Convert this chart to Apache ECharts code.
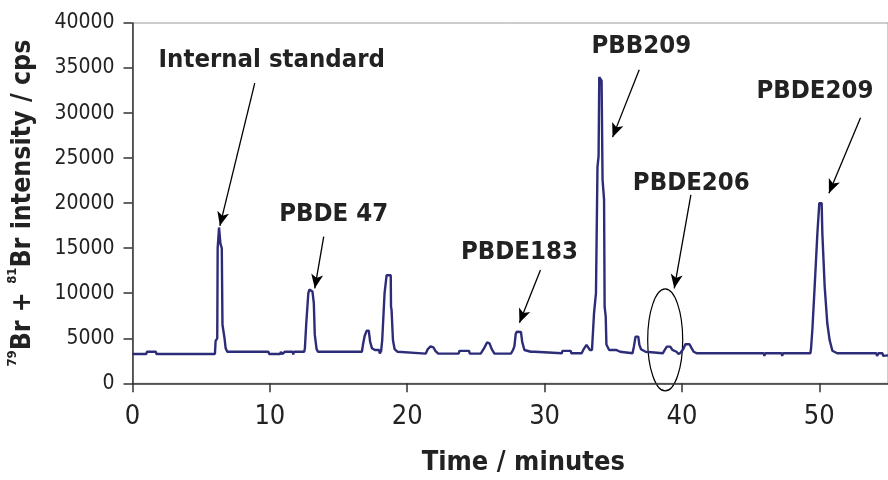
<!DOCTYPE html>
<html>
<head>
<meta charset="utf-8">
<script src="https://cdn.jsdelivr.net/npm/echarts@6/dist/echarts.min.js"></script>
<style>html,body{margin:0;padding:0;background:#fff;}#c{width:888px;height:480px;}</style>
</head>
<body>
<div id="c"></div>
<script>
// Retention time (minutes) and 79Br+81Br intensity (cps)
const times = [0,1.0,1.05,1.7,1.75,6.0,6.05,6.17,6.2,6.3,6.4,6.5,6.55,6.7,6.78,6.9,9.9,9.95,10.75,10.8,10.9,11.1,11.65,11.7,11.75,12.5,
12.55,12.65,12.8,12.88,13.1,13.2,13.27,13.4,13.5,16.7,16.78,16.9,17.05,17.2,17.3,17.43,17.65,17.95,18.0,18.1,18.18,18.35,18.5,18.8,18.82,18.86,18.96,19.08,19.3,19.35,
21.35,21.5,21.7,21.9,22.05,22.25,23.75,23.8,24.5,24.55,25.35,25.6,25.82,26.0,26.15,26.35,27.55,27.7,27.8,27.9,27.97,28.28,28.37,28.53,29.0,29.3,29.38,
31.25,31.3,31.9,31.95,32.7,32.85,33.05,33.15,33.3,33.45,33.6,33.74,33.85,33.93,33.98,34.15,34.22,34.33,34.37,34.45,34.5,34.7,35.2,35.5,35.6,36.4,36.5,36.62,36.82,36.9,37.02,37.35,37.4,
38.6,38.75,38.9,39.15,39.3,39.6,39.75,39.9,40.1,40.25,40.55,40.7,40.85,41.1,45.95,46.0,46.05,47.25,47.3,47.35,49.35,49.4,49.5,49.66,49.86,50.0,50.17,50.22,50.39,50.58,50.75,50.95,51.3,54.15,54.2,54.3,54.6,54.65,55];
const intensity = [3250,3250,3500,3500,3250,3250,4700,5000,15000,17300,15500,15000,6500,5000,3900,3500,3500,3250,3250,3500,3250,3500,3500,3200,3500,3500,
3900,6670,10000,10400,10200,8900,5400,3800,3500,3500,4300,5250,5850,5850,4600,3900,3700,3700,3300,3600,4800,10000,12000,12000,8500,8150,4800,3800,3500,3300,
3300,3800,4100,4000,3600,3300,3300,3600,3600,3300,3300,3900,4550,4400,3800,3300,3300,3700,4100,5500,5730,5700,4600,3700,3500,3500,3330,
3330,3600,3600,3330,3330,3800,4260,4100,3700,3700,7800,10000,24000,25200,34000,33600,22600,20400,8500,7400,4300,3700,3700,3500,3330,3330,4070,5180,5180,4260,3780,3500,3330,
3330,3700,4070,4070,3700,3500,3250,3400,3800,4330,4330,3900,3500,3330,3330,3050,3330,3330,3050,3330,3330,3890,6110,10730,16670,20000,20000,16670,10730,6670,4800,3620,3330,3330,3050,3330,3330,3050,3100];

const xTicks = [0,10,20,30,40,50];
const yTicks = [0,5000,10000,15000,20000,25000,30000,35000,40000];

// Annotations (data coordinates): label, label centre, arrow start, arrow tip
const annLabels = ['Internal standard','PBDE 47','PBDE183','PBB209','PBDE206','PBDE209'];
const annTextPos = [[10.14,35900],[14.65,18790],[28.17,14590],[37.04,37360],[40.68,22250],[49.68,32360]];
const annFrom = [[8.9,33330],[13.92,16290],[29.7,12590],[36.89,34810],[40.65,20920],[53.0,29470]];
const annTo = [[6.36,17480],[13.27,10550],[28.17,6730],[34.95,27330],[39.44,10550],[50.7,21110]];
const ellipseCentre = [38.78,4810];

const fam = '"Liberation Sans Narrow","DejaVu Sans Condensed",sans-serif';
const data = times.map((t,i)=>[t,intensity[i]]);

const chart = echarts.init(document.getElementById('c'));
chart.setOption({
  animation:false,
  grid:{left:132.5,right:0,top:23,bottom:96.7,show:true,borderColor:'#9a9a9a',borderWidth:1,outerBoundsMode:'none',containLabel:false},
  xAxis:{type:'value',min:0,max:55,interval:10,
    axisLine:{show:true,lineStyle:{color:'#333',width:1.5}},
    axisTick:{show:true,length:9,lineStyle:{color:'#333',width:1.5},customValues:xTicks},
    axisLabel:{customValues:xTicks,fontSize:27,color:'#222',margin:20,fontFamily:fam},
    splitLine:{show:false},
    name:'Time / minutes',nameLocation:'middle',nameGap:66,
    nameTextStyle:{fontSize:27,fontWeight:'bold',color:'#222',fontFamily:fam,padding:[0,0,0,26]}
  },
  yAxis:{type:'value',min:0,max:40000,interval:5000,
    axisLine:{show:true,lineStyle:{color:'#333',width:1.5}},
    axisTick:{show:true,length:9,lineStyle:{color:'#333',width:1.5},customValues:yTicks},
    axisLabel:{customValues:yTicks,fontSize:21,color:'#222',margin:18,fontFamily:fam,formatter:v=>String(v)},
    splitLine:{show:false},
    name:'{s|79}{b|Br + }{s|81}{b|Br intensity / cps}',nameLocation:'middle',nameGap:92,nameRotate:90,
    nameTextStyle:{rich:{
      s:{fontSize:13,fontWeight:'bold',color:'#222',fontFamily:fam,verticalAlign:'top',lineHeight:34},
      b:{fontSize:26.5,fontWeight:'bold',color:'#222',fontFamily:fam,lineHeight:34}
    }}
  },
  series:[{type:'line',data:data,showSymbol:false,symbol:'none',
    lineStyle:{color:'#2d2c78',width:2.4},
    markLine:{silent:true,symbol:['none','arrow'],symbolSize:[9,14],
      lineStyle:{color:'#000',width:1.3,type:'solid'},label:{show:false},
      data:annFrom.map((f,i)=>[{coord:f},{coord:annTo[i]}])
    }
  }]
});

const g = [];
annLabels.forEach((txt,i)=>{
  const p = chart.convertToPixel({gridIndex:0},annTextPos[i]);
  g.push({type:'text',x:p[0],y:p[1],style:{text:txt,fill:'#222',font:'bold 25.5px '+fam,textAlign:'center',textVerticalAlign:'middle'}});
});
const c = chart.convertToPixel({gridIndex:0},ellipseCentre);
g.push({type:'ellipse',shape:{cx:c[0],cy:c[1],rx:17.5,ry:51},style:{fill:'none',stroke:'#000',lineWidth:1.2}});
chart.setOption({graphic:g});
</script>
</body>
</html>
